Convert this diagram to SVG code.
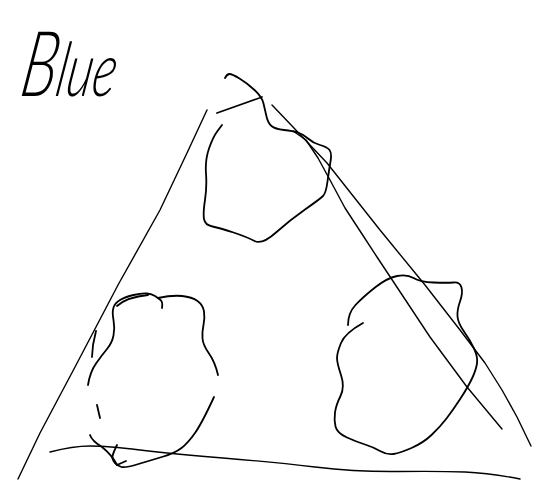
<svg xmlns="http://www.w3.org/2000/svg" width="538" height="502" viewBox="0 0 538 502">
  <style>
    .ink { fill: none; stroke: #000; stroke-linecap: round; stroke-linejoin: round; }
    .line { stroke-width: 1.4; }
    .blob { stroke-width: 1.8; }
    .hand { font-family: "Lato", "Liberation Sans", sans-serif; font-style: italic; font-weight: 300; fill: #000; }
  </style>
  <rect width="538" height="502" fill="#fff"/>

  <g id="label">
    <text class="hand" transform="translate(18,96) skewX(-10) scale(0.86,1.3)"><tspan font-size="70">B</tspan><tspan font-size="58">lue</tspan></text>
  </g>

  <g id="triangle">
    <path class="ink line" d="M207,110 L187,153 L160,210 L118,285 L75,367 L40,433 L18,479"/>
    <path class="ink line" d="M50,452 Q73,446 90,446 Q107,446 140,450 Q173,454 223,458 Q273,462 315,467 Q357,472 398.5,471.5 Q440,471 465,472 Q490,473 520,479"/>
    <path class="ink line" d="M293,131 L306,140 L318,158 L330,180 L345,208 L362,234 L377,257 L430,337 L467,387 L502,429"/>
    <path class="ink line" d="M272,105 L293,127 L327,163 L380,230 L425,285 L460,330 L485,363 L502,390 L517,417 L531,446"/>
  </g>

  <g id="blob-top">
    <path class="ink blob" d="M225,78 Q227,74 229.5,74 Q232,74 239.5,78.5 Q247,83 254.5,90 Q262,97 263.5,103.5 Q265,110 266.5,116.5 Q268,123 271.5,126 Q275,129 284,130 Q293,131 298,132.5 Q303,134 308,138.5 Q313,143 320,145 Q327,147 329.5,150 Q332,153 330.5,161.5 Q329,170 327.5,181.5 Q326,193 323,196 Q320,199 305,209.5 Q290,220 276,232.5 Q262,245 254.5,241 Q247,237 233.5,232.5 Q220,228 212.5,226.5 Q205,225 204,219 Q203,213 205,200 Q207,187 206,173.5 Q205,160 209,148.5 Q213,137 217.5,131 L222,125"/>
    <path class="ink blob" d="M217,113 Q237,106 262,97"/>
  </g>

  <g id="blob-left">
    <path class="ink blob" d="M88,385 Q90,372 96,363.5 Q102,355 107,349 Q112,343 113.5,335.5 Q115,328 113.5,320 Q112,312 113.5,307.5 Q115,303 120,300 Q125,297 133.5,295 Q142,293 147,293.5 Q152,294 155,296 Q158,298 160.5,300 Q163,302 162,308"/>
    <path class="ink blob" d="M117,306 Q127,297 148,295"/>
    <path class="ink blob" d="M158,298 Q172,295 182,296 Q192,297 197.5,301 Q203,305 204,311.5 Q205,318 203.5,325 Q202,332 202.5,338.5 Q203,345 209,353.5 Q215,362 218,375"/>
    <path class="ink blob" d="M214,397 Q202,423 195,433 Q188,443 181.5,448 Q175,453 163.5,456.5 Q152,460 138.5,464 Q125,468 121.5,467 Q118,466 115,463 Q112,460 112.5,456.5 Q113,453 117,445"/>
    <path class="ink blob" d="M90,435 Q92,441 102,447 Q112,455 117,465 L126,461"/>
    <path class="ink blob" d="M97,405 L100,418"/>
    <path class="ink blob" d="M96,331 L93,345 L92,357"/>
  </g>

  <g id="blob-right">
    <path class="ink blob" d="M348,325 Q348,313 355.5,305 Q363,297 375,287.5 Q387,278 397,276 Q407,274 413.5,278 Q420,282 433.5,282.5 Q447,283 453.5,282.5 Q460,282 461.5,287.5 Q463,293 460,301.5 Q457,310 457.5,316.5 Q458,323 464,331.5 Q470,340 474,348.5 Q478,357 477,363.5 Q476,370 472,378.5 Q468,387 460.5,398.5 Q453,410 446.5,418.5 Q440,427 431.5,435 Q423,443 411.5,448 Q400,453 393.5,454 Q387,455 380,451 Q373,447 365,444.5 Q357,442 347,437.5 Q337,433 335.5,426.5 Q334,420 335,412.5 Q336,405 340.5,396 Q345,387 341,375 Q337,363 337,358 Q337,353 341,343 Q345,333 363,323"/>
  </g>
</svg>
